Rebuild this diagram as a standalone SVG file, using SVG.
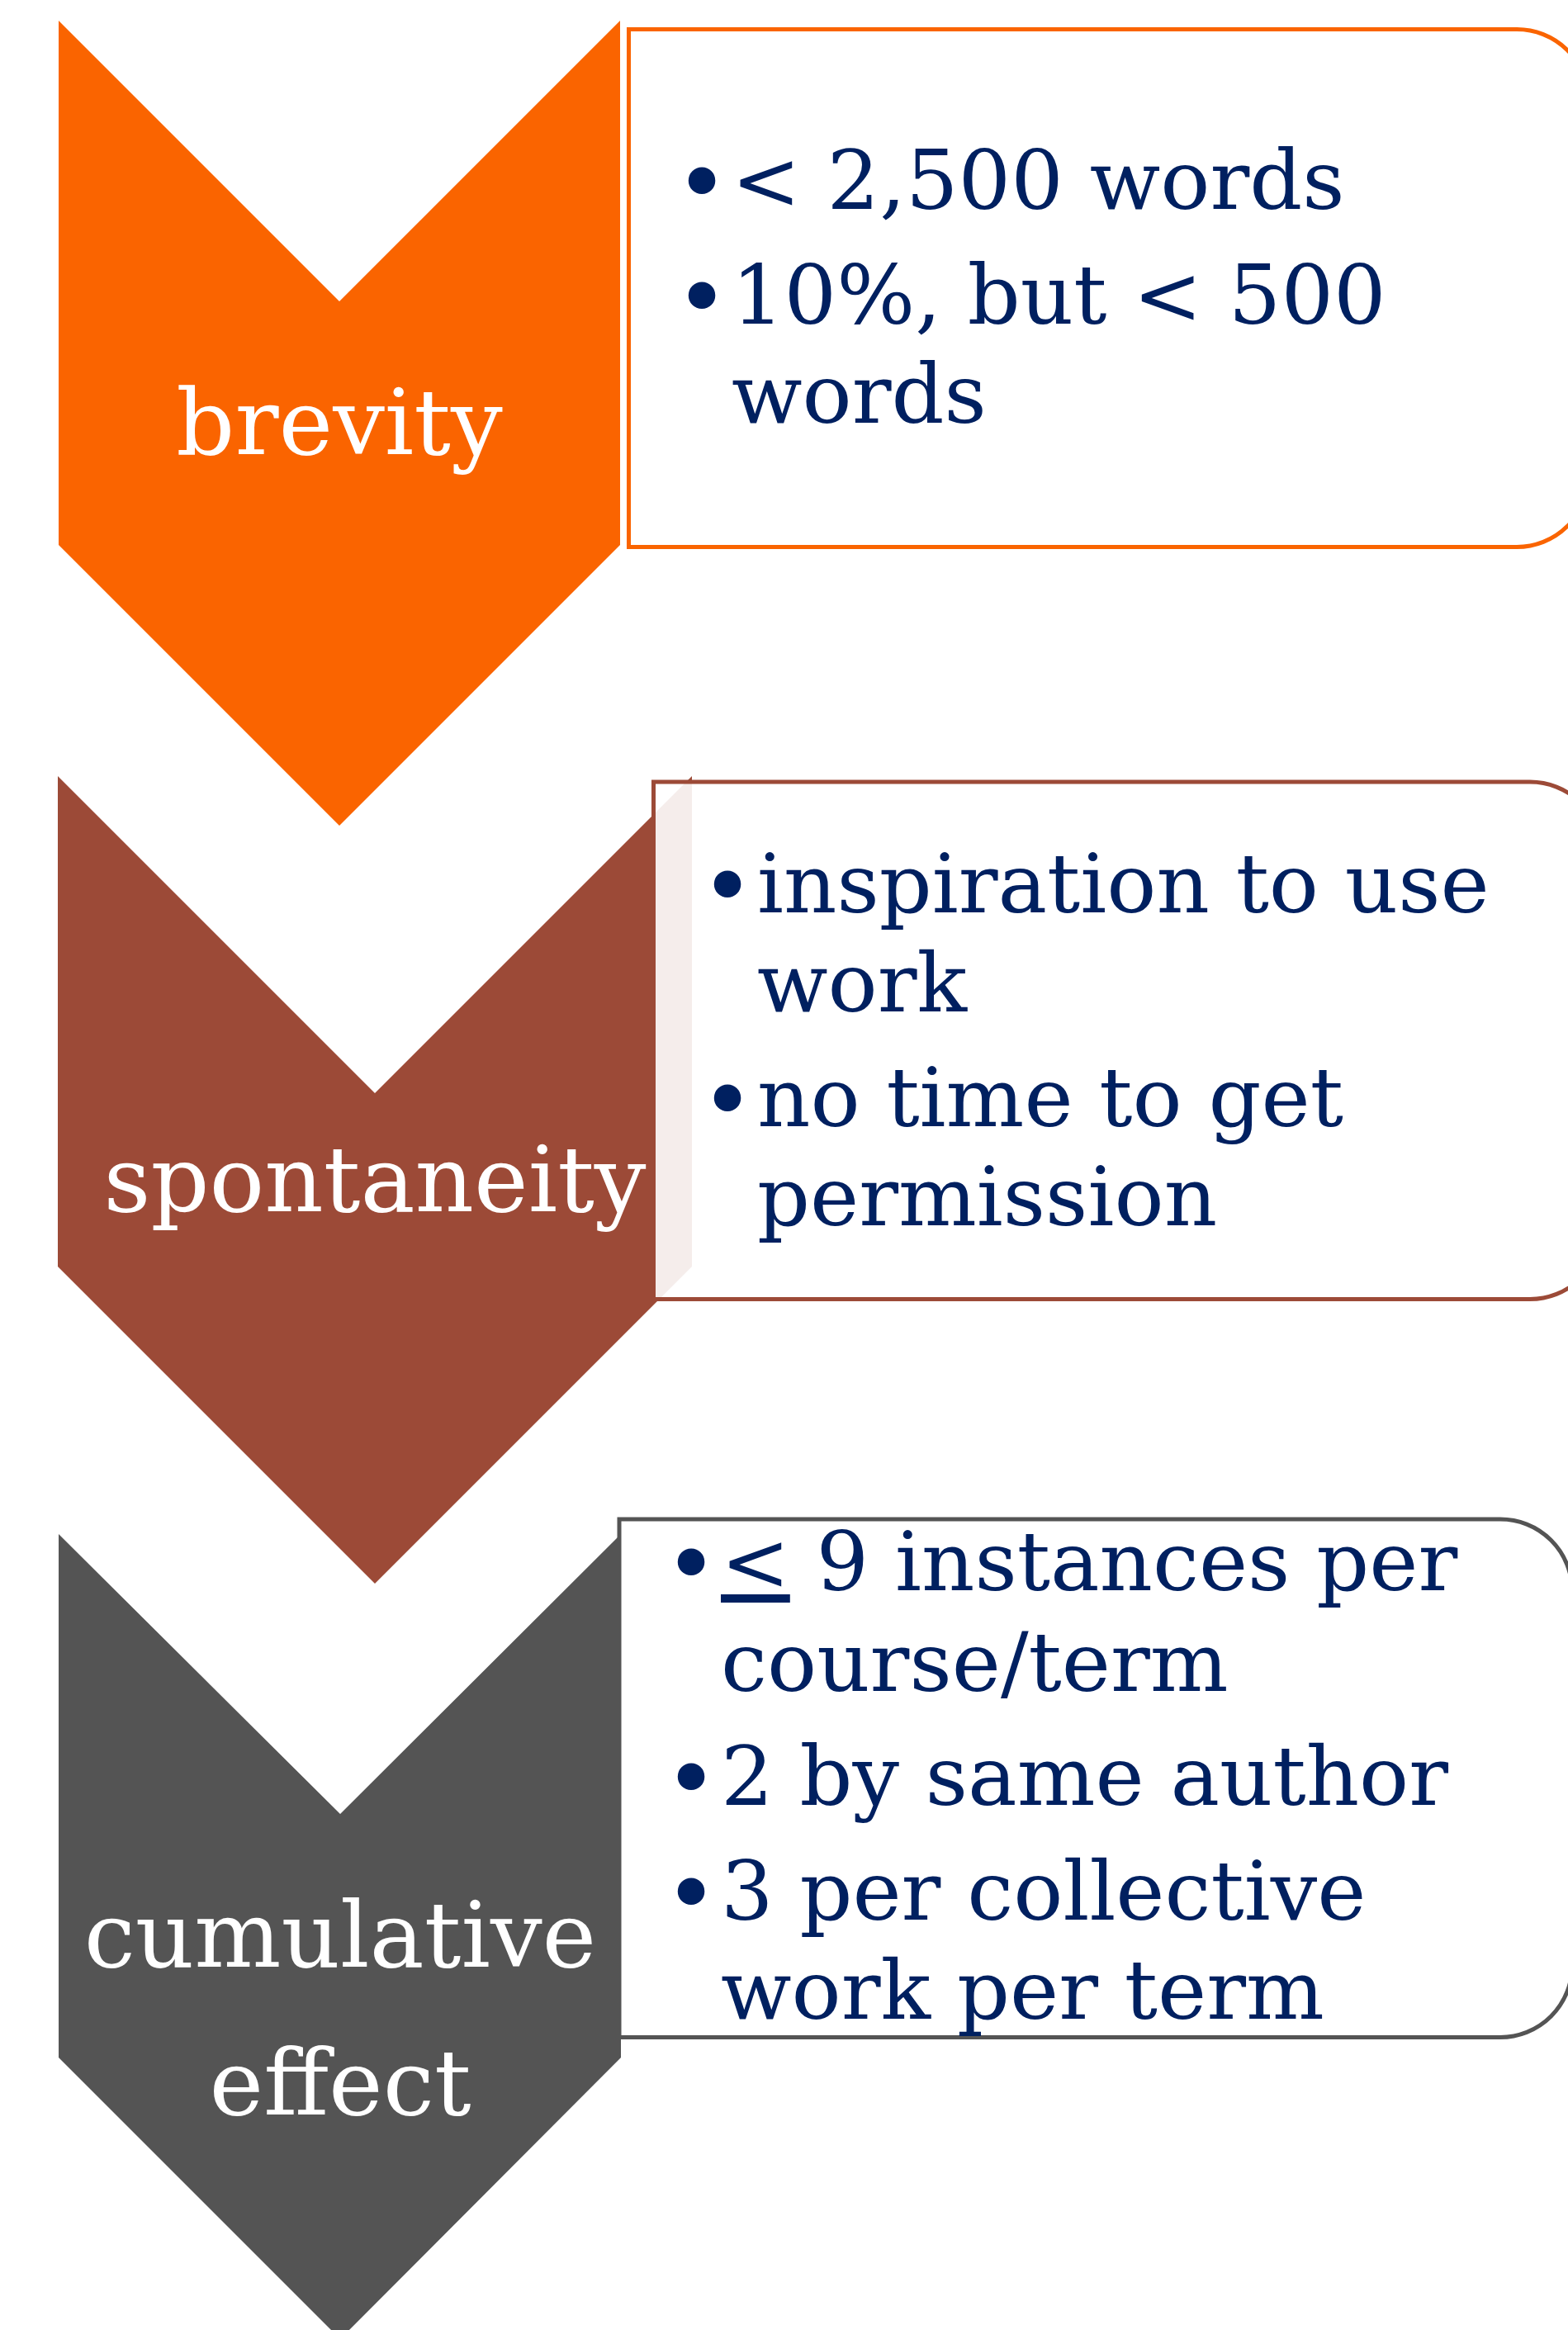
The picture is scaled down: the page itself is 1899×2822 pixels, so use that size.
<svg xmlns="http://www.w3.org/2000/svg" width="1899" height="2822" viewBox="0 0 1899 2822">
<style>
.box{fill:#ffffff;fill-opacity:0.9;stroke-width:5}
.lbl{font-family:"DejaVu Serif","Liberation Serif",serif;font-size:111px;fill:#ffffff;text-anchor:middle}
.txt{font-family:"DejaVu Serif","Liberation Serif",serif;font-size:100px;fill:#002060}
.bul{font-family:"DejaVu Sans","Liberation Sans",sans-serif;font-size:112px;fill:#002060;text-anchor:middle}
</style>
<rect width="1899" height="2822" fill="#ffffff"/>
<g id="node-brevity">
<polygon points="71,25 411,365 751,25 751,660 411,1000 71,660" fill="#FA6400"/>
<path class="box" stroke="#FA6400" d="M761.5,35.5 H1837 A87,87 0 0 1 1924,122.5 V575.5 A87,87 0 0 1 1837,662.5 H761.5 Z"/>
<text class="lbl" x="411" y="550">brevity</text>
<text class="bul" x="850" y="261">•</text>
<text class="txt" x="886" y="253">&lt; 2,500 words</text>
<text class="bul" x="850" y="400">•</text>
<text class="txt" x="886" y="392">10%, but &lt; 500</text>
<text class="txt" x="886" y="512">words</text>
</g>
<g id="node-spontaneity">
<polygon points="70,940 454,1324 838,940 838,1534 454,1918 70,1534" fill="#9C4A37"/>
<path class="box" stroke="#9C4A37" d="M791.5,947 H1853 A87,87 0 0 1 1940,1034 V1486.5 A87,87 0 0 1 1853,1573.5 H791.5 Z"/>
<text class="lbl" x="454" y="1467">spontaneity</text>
<text class="bul" x="881" y="1113">•</text>
<text class="txt" x="917" y="1105">inspiration to use</text>
<text class="txt" x="917" y="1225">work</text>
<text class="bul" x="881" y="1372">•</text>
<text class="txt" x="917" y="1364">no time to get</text>
<text class="txt" x="917" y="1484">permission</text>
</g>
<g id="node-cumulative">
<polygon points="71,1858 412,2197 752,1858 752,2492 412,2833 71,2492" fill="#545454"/>
<path class="box" stroke="#545454" d="M750,1840 H1817 A87,87 0 0 1 1904,1927 V2380.5 A87,87 0 0 1 1817,2467.5 H750 Z"/>
<text class="lbl" x="412" y="2382">cumulative</text>
<text class="lbl" x="412" y="2561">effect</text>
<text class="bul" x="837" y="1934">•</text>
<text class="txt" x="873" y="1926"><tspan text-decoration="underline">&lt;</tspan> 9 instances per</text>
<text class="txt" x="873" y="2048">course/term</text>
<text class="bul" x="837" y="2194">•</text>
<text class="txt" x="873" y="2186">2 by same author</text>
<text class="bul" x="837" y="2333">•</text>
<text class="txt" x="873" y="2325">3 per collective</text>
<text class="txt" x="873" y="2445">work per term</text>
</g>
<g id="connectors"/>
</svg>
